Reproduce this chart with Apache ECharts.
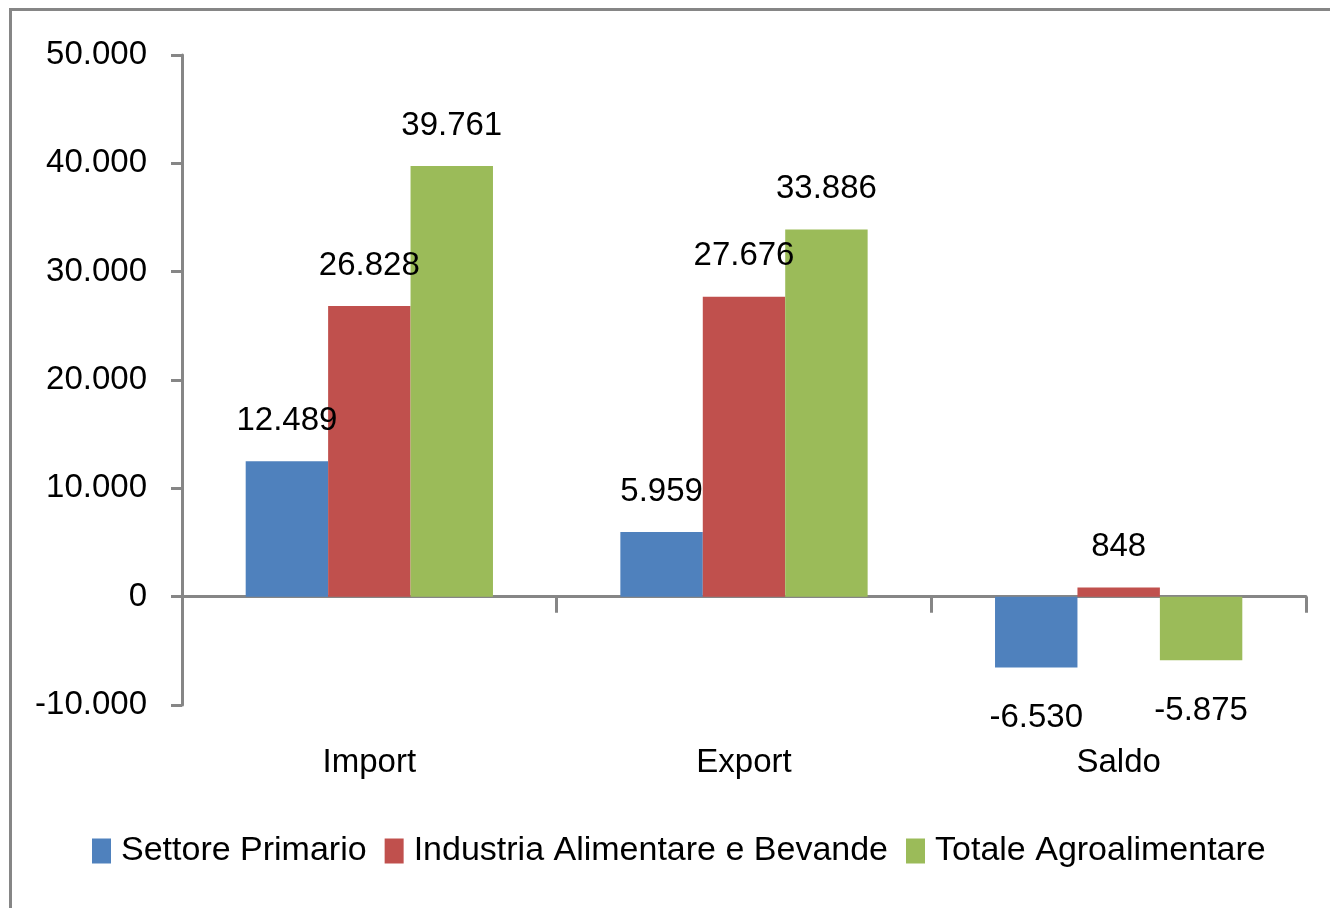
<!DOCTYPE html>
<html>
<head>
<meta charset="utf-8">
<script src="https://cdn.jsdelivr.net/npm/echarts@6/dist/echarts.min.js"></script>
<style>
  html, body { margin: 0; padding: 0; background: #fff; }
  #frame {
    position: absolute; left: 9px; top: 8px; right: 0; bottom: 0;
    border-top: 3px solid #868686; border-left: 3px solid #868686;
  }
  #chart { position: absolute; left: 0; top: 0; width: 1330px; height: 908px; }
</style>
</head>
<body>
<div id="frame"></div>
<div id="chart"></div>
<script>
var categories = ['Import', 'Export', 'Saldo'];
var seriesNames = ['Settore Primario', 'Industria Alimentare e Bevande', 'Totale Agroalimentare'];
var settorePrimario = [12489, 5959, -6530];
var industriaAlimentare = [26828, 27676, 848];
var totaleAgro = [39761, 33886, -5875];
var colors = ['#4F81BD', '#C0504D', '#9BBB59'];

var fontFamily = '"Liberation Sans", Arial, sans-serif';

function fmt(v) {
  var s = String(Math.abs(v)).replace(/\B(?=(\d{3})+(?!\d))/g, '.');
  return (v < 0 ? '-' : '') + s;
}

function toItems(arr) {
  return arr.map(function (v) {
    return {
      value: v,
      label: { position: v < 0 ? 'bottom' : 'top', distance: v < 0 ? 34 : 24 }
    };
  });
}

var allData = [settorePrimario, industriaAlimentare, totaleAgro];

var chart = echarts.init(document.getElementById('chart'));
chart.setOption({
  animation: false,
  textStyle: { fontFamily: fontFamily },
  grid: { left: 182, right: 24, top: 55, bottom: 203, containLabel: false },
  legend: {
    bottom: 35,
    left: 87,
    itemWidth: 19,
    itemHeight: 25,
    itemGap: 18,
    icon: 'rect',
    textStyle: { fontSize: 34, color: '#000', fontFamily: fontFamily, padding: [0, 0, 0, 5] },
    data: seriesNames
  },
  xAxis: {
    type: 'category',
    data: categories,
    axisLine: { onZero: true, lineStyle: { color: '#868686', width: 3 } },
    axisTick: { show: true, length: 16, lineStyle: { color: '#868686', width: 3 } },
    axisLabel: { margin: 41, fontSize: 33, color: '#000' },
    splitLine: { show: false }
  },
  yAxis: {
    type: 'value',
    min: -10000,
    max: 50000,
    interval: 10000,
    axisLine: { show: true, lineStyle: { color: '#868686', width: 3 } },
    axisTick: { show: true, length: 11, lineStyle: { color: '#868686', width: 3 } },
    axisLabel: { formatter: fmt, fontSize: 33, color: '#000', margin: 35 },
    splitLine: { show: false }
  },
  series: allData.map(function (arr, i) {
    return {
      name: seriesNames[i],
      type: 'bar',
      data: toItems(arr),
      barGap: '0%',
      barCategoryGap: '34%',
      itemStyle: { color: colors[i] },
      label: {
        show: true,
        fontSize: 33,
        color: '#000',
        formatter: function (p) { return fmt(p.value); }
      }
    };
  })
});
</script>
</body>
</html>
